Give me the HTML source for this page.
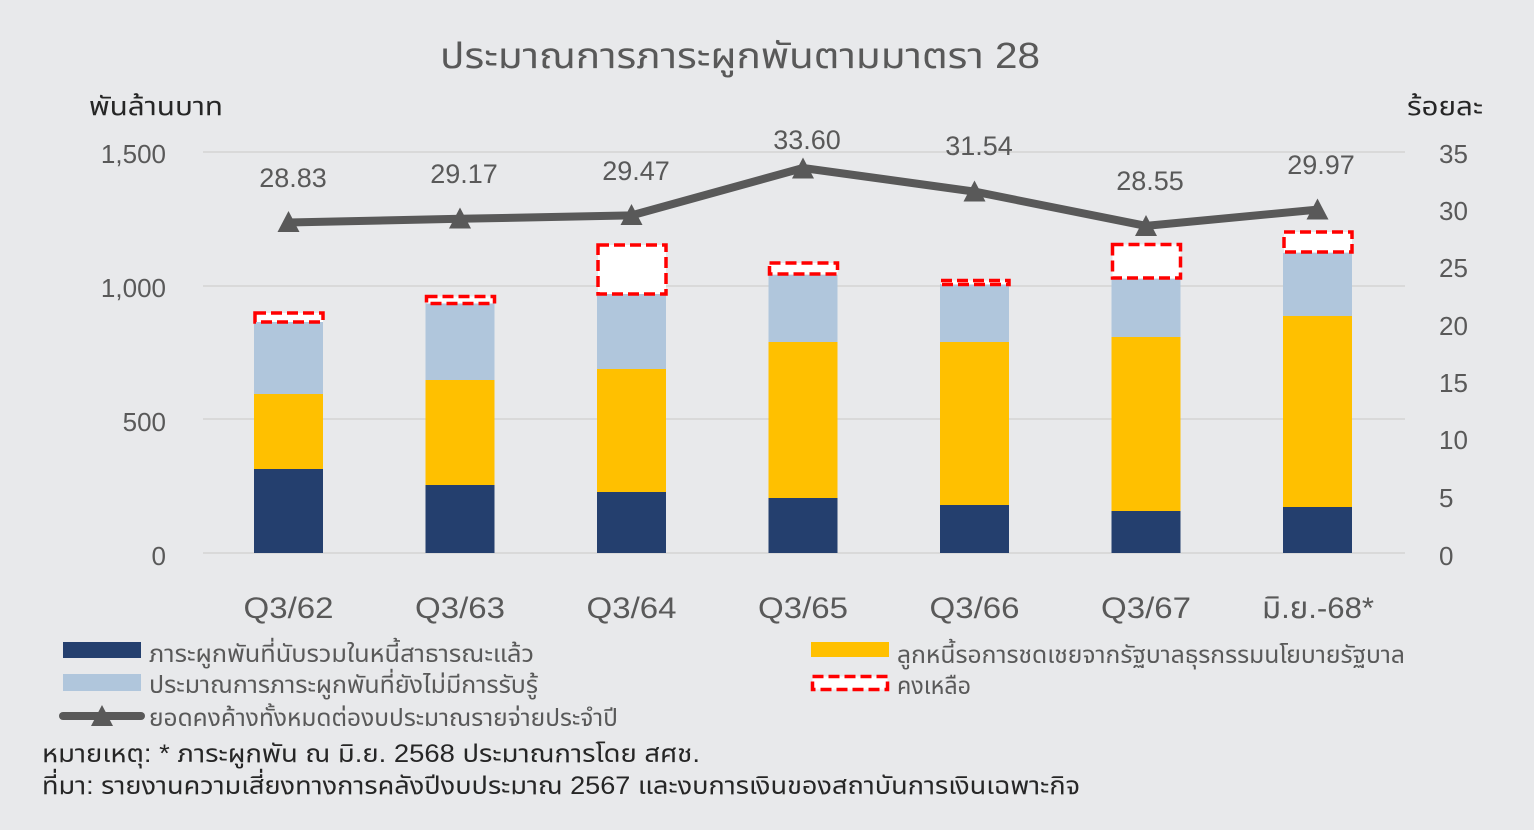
<!DOCTYPE html>
<html>
<head>
<meta charset="utf-8">
<style>
html,body{margin:0;padding:0;background:#e8e9eb;}
svg{display:block;}
text{font-family:"Liberation Sans","Noto Sans Thai","Loma","Garuda","DejaVu Sans",sans-serif;}
</style>
</head>
<body>
<svg width="1534" height="830" viewBox="0 0 1534 830" xmlns="http://www.w3.org/2000/svg">
<rect x="0" y="0" width="1534" height="830" fill="#e8e9eb"/>

<!-- Title -->
<text x="440" y="68" font-size="36" fill="#595959" textLength="600" lengthAdjust="spacingAndGlyphs">ประมาณการภาระผูกพันตามมาตรา 28</text>

<!-- Axis titles -->
<text x="89" y="115" font-size="26" fill="#262626" textLength="134" lengthAdjust="spacingAndGlyphs">พันล้านบาท</text>
<text x="1407" y="115" font-size="26" fill="#262626" textLength="76" lengthAdjust="spacingAndGlyphs">ร้อยละ</text>

<!-- Gridlines -->
<g stroke="#d9d9d9" stroke-width="2">
<line x1="203" y1="152" x2="1405" y2="152"/>
<line x1="203" y1="286" x2="1405" y2="286"/>
<line x1="203" y1="419" x2="1405" y2="419"/>
<line x1="203" y1="553" x2="1405" y2="553"/>
</g>

<!-- Left axis labels -->
<g font-size="26" fill="#595959" text-anchor="end">
<text x="166" y="163">1,500</text>
<text x="166" y="297">1,000</text>
<text x="166" y="431">500</text>
<text x="166" y="565">0</text>
</g>

<!-- Right axis labels -->
<g font-size="26" fill="#595959" text-anchor="start">
<text x="1439" y="163">35</text>
<text x="1439" y="220">30</text>
<text x="1439" y="277">25</text>
<text x="1439" y="335">20</text>
<text x="1439" y="392">15</text>
<text x="1439" y="449">10</text>
<text x="1439" y="507">5</text>
<text x="1439" y="565">0</text>
</g>

<!-- Bars -->
<g>
<!-- bar 1 -->
<rect x="254" y="469" width="69" height="84" fill="#243f6e"/>
<rect x="254" y="394" width="69" height="75" fill="#ffc000"/>
<rect x="254" y="322" width="69" height="72" fill="#b0c6dc"/>
<!-- bar 2 -->
<rect x="425.5" y="485" width="69" height="68" fill="#243f6e"/>
<rect x="425.5" y="380" width="69" height="105" fill="#ffc000"/>
<rect x="425.5" y="303" width="69" height="77" fill="#b0c6dc"/>
<!-- bar 3 -->
<rect x="597" y="492" width="69" height="61" fill="#243f6e"/>
<rect x="597" y="369" width="69" height="123" fill="#ffc000"/>
<rect x="597" y="294" width="69" height="75" fill="#b0c6dc"/>
<!-- bar 4 -->
<rect x="768.5" y="498" width="69" height="55" fill="#243f6e"/>
<rect x="768.5" y="342" width="69" height="156" fill="#ffc000"/>
<rect x="768.5" y="275" width="69" height="67" fill="#b0c6dc"/>
<!-- bar 5 -->
<rect x="940" y="505" width="69" height="48" fill="#243f6e"/>
<rect x="940" y="342" width="69" height="163" fill="#ffc000"/>
<rect x="940" y="284" width="69" height="58" fill="#b0c6dc"/>
<!-- bar 6 -->
<rect x="1111.5" y="511" width="69" height="42" fill="#243f6e"/>
<rect x="1111.5" y="337" width="69" height="174" fill="#ffc000"/>
<rect x="1111.5" y="279" width="69" height="58" fill="#b0c6dc"/>
<!-- bar 7 -->
<rect x="1283" y="507" width="69" height="46" fill="#243f6e"/>
<rect x="1283" y="316" width="69" height="191" fill="#ffc000"/>
<rect x="1283" y="253" width="69" height="63" fill="#b0c6dc"/>
</g>

<!-- Remaining (dashed red boxes) -->
<g fill="#ffffff" stroke="#ff0000" stroke-width="3.5" stroke-dasharray="11,5">
<rect x="255" y="313" width="68" height="9"/>
<rect x="426.5" y="296.5" width="68" height="7"/>
<rect x="598" y="245" width="68" height="49"/>
<rect x="769.5" y="263" width="68" height="11"/>
<rect x="941" y="280.5" width="68" height="4"/>
<rect x="1112.5" y="244.5" width="68" height="33.5"/>
<rect x="1284" y="232" width="68" height="20"/>
</g>

<!-- Line -->
<polyline points="288.5,222.5 460,218.8 631.5,215.4 803,168 974.5,191.6 1146,225.9 1317.5,209.6" fill="none" stroke="#595959" stroke-width="8" stroke-linejoin="round"/>
<g fill="#595959">
<polygon points="288.5,211 299.5,232 277.5,232"/>
<polygon points="460,207.5 471,228.5 449,228.5"/>
<polygon points="631.5,204 642.5,225 620.5,225"/>
<polygon points="803,157.5 814,178.5 792,178.5"/>
<polygon points="974.5,180.5 985.5,201.5 963.5,201.5"/>
<polygon points="1146,215 1157,236 1135,236"/>
<polygon points="1317.5,198.5 1328.5,219.5 1306.5,219.5"/>
</g>

<!-- Line value labels -->
<g font-size="27" fill="#595959" text-anchor="middle">
<text x="293" y="187">28.83</text>
<text x="464" y="183">29.17</text>
<text x="636" y="180">29.47</text>
<text x="807" y="149">33.60</text>
<text x="979" y="155">31.54</text>
<text x="1150" y="190">28.55</text>
<text x="1321" y="174">29.97</text>
</g>

<!-- X labels -->
<g font-size="30" fill="#595959" text-anchor="middle">
<text x="288.5" y="618" textLength="90" lengthAdjust="spacingAndGlyphs">Q3/62</text>
<text x="460" y="618" textLength="90" lengthAdjust="spacingAndGlyphs">Q3/63</text>
<text x="631.5" y="618" textLength="90" lengthAdjust="spacingAndGlyphs">Q3/64</text>
<text x="803" y="618" textLength="90" lengthAdjust="spacingAndGlyphs">Q3/65</text>
<text x="974.5" y="618" textLength="90" lengthAdjust="spacingAndGlyphs">Q3/66</text>
<text x="1146" y="618" textLength="90" lengthAdjust="spacingAndGlyphs">Q3/67</text>
<text x="1318" y="618" textLength="112" lengthAdjust="spacingAndGlyphs">มิ.ย.-68*</text>
</g>

<!-- Legend -->
<rect x="63" y="642" width="78" height="16" fill="#243f6e"/>
<text x="149" y="662" font-size="24" fill="#595959" textLength="385" lengthAdjust="spacingAndGlyphs">ภาระผูกพันที่นับรวมในหนี้สาธารณะแล้ว</text>

<rect x="63" y="674" width="78" height="17" fill="#b0c6dc"/>
<text x="149" y="693" font-size="24" fill="#595959" textLength="389" lengthAdjust="spacingAndGlyphs">ประมาณการภาระผูกพันที่ยังไม่มีการรับรู้</text>

<line x1="63" y1="716" x2="141" y2="716" stroke="#595959" stroke-width="8" stroke-linecap="round"/>
<polygon points="102,705 113,726 91,726" fill="#595959"/>
<text x="149" y="726" font-size="24" fill="#595959" textLength="469" lengthAdjust="spacingAndGlyphs">ยอดคงค้างทั้งหมดต่องบประมาณรายจ่ายประจำปี</text>

<rect x="811" y="642" width="78" height="15" fill="#ffc000"/>
<text x="897" y="663" font-size="24" fill="#595959" textLength="508" lengthAdjust="spacingAndGlyphs">ลูกหนี้รอการชดเชยจากรัฐบาลธุรกรรมนโยบายรัฐบาล</text>

<rect x="812.5" y="676.5" width="75" height="13" fill="#ffffff" stroke="#ff0000" stroke-width="3.5" stroke-dasharray="11,5"/>
<text x="897" y="694" font-size="24" fill="#595959" textLength="74" lengthAdjust="spacingAndGlyphs">คงเหลือ</text>

<!-- Notes -->
<text x="42" y="762" font-size="25" fill="#262626" textLength="658" lengthAdjust="spacingAndGlyphs">หมายเหตุ: * ภาระผูกพัน ณ มิ.ย. 2568 ประมาณการโดย สศช.</text>
<text x="42" y="794" font-size="25" fill="#262626" textLength="1038" lengthAdjust="spacingAndGlyphs">ที่มา: รายงานความเสี่ยงทางการคลังปีงบประมาณ 2567 และงบการเงินของสถาบันการเงินเฉพาะกิจ</text>
</svg>
</body>
</html>
